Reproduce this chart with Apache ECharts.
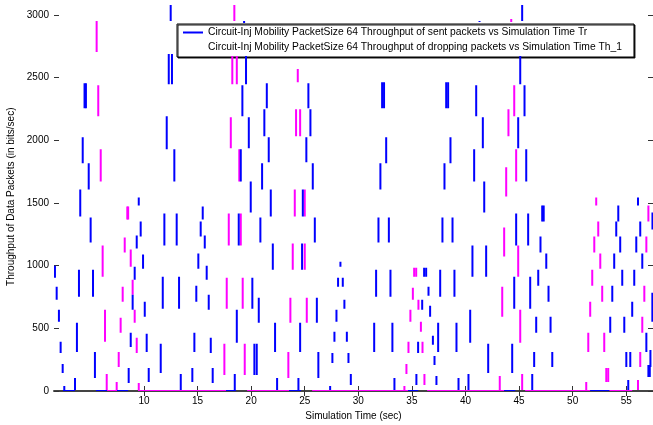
<!DOCTYPE html>
<html>
<head>
<meta charset="utf-8">
<script src="https://cdn.jsdelivr.net/npm/echarts@6/dist/echarts.min.js"></script>
<style>html,body{margin:0;padding:0;background:#fff;}#c{width:653px;height:425px;}</style>
</head>
<body>
<div id="c"></div>
<script>
// Series names
const name1 = 'Circuit-Inj Mobility PacketSize 64 Throughput of sent packets vs Simulation Time Tr';
const name2 = 'Circuit-Inj Mobility PacketSize 64 Throughput of dropping packets vs Simulation Time Th_1';
const xTitle = 'Simulation Time (sec)';
const yTitle = 'Throughput of Data Packets (in bits/sec)';
const xTicks = [10, 15, 20, 25, 30, 35, 40, 45, 50, 55];
const yTicks = [0, 500, 1000, 1500, 2000, 2500, 3000];

// vertical jumps: [time, low value, high value]
const blueSegs = [
[1.69,904,1000],[1.85,728,832],[2.06,552,648],[2.22,304,392],[2.41,144,216],[2.56,8,40],
[3.56,8,104],[3.74,312,544],[3.93,752,968],[4.05,1392,1608],[4.28,1816,2024],[4.45,2256,2456],[4.58,2256,2456],[4.84,1608,1816],[5.02,1184,1384],[5.24,752,968],[5.42,104,312],
[8.57,64,184],[8.76,352,464],[8.94,648,768],[9.13,888,992],[9.32,1136,1240],[9.51,1480,1544],[9.69,1232,1352],[9.91,976,1088],[10.07,592,712],[10.25,312,456],[10.44,72,184],
[11.56,144,376],[11.75,656,912],[11.90,1160,1416],[12.12,1928,2192],[12.31,2448,2688],[12.49,2952,3080],[12.61,2448,2688],[12.83,1672,1928],[13.05,1160,1416],[13.27,656,912],[13.43,8,136],
[14.51,72,184],[14.70,312,464],[14.88,712,840],[15.07,976,1096],[15.29,1232,1352],[15.48,1368,1472],[15.67,1136,1240],[15.85,888,1000],[16.04,648,768],[16.23,304,424],[16.41,64,184],
[18.47,8,136],[18.66,384,648],[18.84,1160,1416],[19.03,1672,1928],[19.18,2192,2440],[19.34,2936,2952],[19.52,2448,2672],[19.78,1936,2184],[19.96,1424,1672],[20.11,656,904],[20.30,128,376],[20.52,128,376],[20.71,544,744],[20.86,1184,1384],[21.02,1608,1816],[21.23,2032,2248],[21.46,2256,2456],[21.64,1824,2024],[21.83,1392,1608],[22.02,968,1176],[22.23,312,544],[22.42,8,104],
[24.41,8,104],[24.57,312,544],[24.75,968,1176],[24.82,1392,1608],[25.15,1824,2024],[25.34,2256,2456],[25.53,2032,2248],[25.75,1608,1816],[25.94,1184,1384],[26.13,544,744],[26.27,104,312],
[27.37,8,40],[27.58,224,304],[27.77,392,472],[27.96,552,648],[28.11,832,904],[28.33,992,1032],[28.55,832,904],[28.70,656,728],[28.93,392,472],[29.08,224,304],[29.30,48,136],
[31.48,312,544],[31.66,752,968],[31.88,1184,1384],[32.06,1608,1816],[32.22,2256,2464],[32.40,2256,2464],[32.60,1816,2024],[32.85,1184,1384],[33.00,752,968],[33.18,312,544],[33.37,8,104],
[35.42,48,136],[35.58,304,392],[35.96,648,728],[36.14,912,984],[36.33,912,984],[36.55,760,832],[36.70,592,680],[36.96,368,440],[37.11,208,280],[37.29,48,120],
[37.45,312,544],[37.64,752,968],[37.85,1184,1384],[38.04,1608,1816],[38.20,2256,2464],[38.38,2256,2464],[38.60,1816,2024],[38.79,1184,1384],[38.97,752,968],[39.16,312,544],[39.35,8,104],
[40.28,8,136],[40.44,384,648],[40.65,912,1160],[40.81,1672,1928],[41.00,2192,2440],[41.31,2944,2952],[41.62,1936,2184],[41.75,1424,1672],[41.93,912,1160],[42.12,144,376],
[44.36,144,376],[44.55,656,912],[44.73,1160,1416],[44.92,1936,2184],[45.11,2448,2672],[45.29,2952,3080],[45.51,2192,2440],[45.67,1672,1928],[45.85,1160,1416],[46.04,656,912],[46.23,8,136],
[46.41,192,312],[46.60,464,592],[46.79,840,968],[47.00,1104,1232],[47.16,1352,1480],[47.30,1352,1480],[47.54,976,1096],[47.75,712,840],[47.94,464,592],[48.10,192,312],
[53.51,464,592],[53.70,712,840],[53.88,976,1096],[54.07,1232,1352],[54.26,1352,1480],[54.44,1104,1232],[54.63,840,968],[54.82,464,592],[55.01,192,312],[55.19,8,88],[55.38,192,312],[55.56,592,712],[55.75,840,968],[55.94,1104,1232],[56.10,1480,1544],[56.31,1232,1352],[56.50,976,1096],[56.88,312,464],[57.07,112,208],[57.20,112,208],[57.26,192,328],[57.44,552,784],[57.45,1288,1424]
];
const magentaSegs = [
[5.58,2704,2952],[5.73,2192,2440],[5.96,1672,1928],[6.14,912,1160],[6.36,392,648],[6.52,8,136],
[7.45,8,72],[7.64,192,312],[7.82,464,584],[8.01,712,832],[8.20,1104,1224],[8.44,1368,1472],[8.52,1368,1472],[8.76,992,1128],[8.94,768,888],[9.13,544,648],[9.32,304,424],[9.51,8,64],
[17.50,128,376],[17.72,656,904],[17.91,1160,1416],[18.10,1936,2184],[18.24,2448,2672],[18.43,2952,3080],[18.66,2448,2672],[18.89,1672,1928],[19.03,1160,1416],[19.21,656,904],[19.40,128,376],
[23.47,104,312],[23.66,544,744],[23.88,968,1176],[24.07,1392,1608],[24.19,2032,2248],[24.35,2464,2568],[24.57,2032,2248],[25.00,1392,1608],[25.00,968,1176],[25.19,544,744],
[34.30,8,40],[34.49,136,216],[34.68,304,392],[34.86,552,648],[35.09,728,824],[35.21,912,984],[35.40,912,984],[35.61,648,728],[35.84,472,552],[35.99,304,392],[36.17,48,136],
[43.20,8,120],[43.43,592,832],[43.61,1072,1304],[43.80,1552,1784],[44.01,2032,2248],[44.27,2944,2968],[44.55,2192,2440],[44.73,1672,1928],[44.92,912,1160],[45.11,384,648],[45.29,8,136],
[51.27,8,72],[51.46,312,464],[51.64,592,712],[51.83,840,968],[52.02,1104,1232],[52.20,1480,1544],[52.39,1232,1352],[52.58,976,1096],[52.76,712,840],[52.95,312,464],[53.14,72,184],[53.32,72,184],
[56.10,8,88],[56.31,192,312],[56.50,464,592],[56.69,712,840],[56.88,1104,1232],[57.07,1352,1480]
];
// stretches where the throughput sits at zero: [start time, end time]
const blueBase = [[2.44,3.56],[5.52,6.55],[7.48,8.51],[17.66,18.59],[23.54,24.66],[34.65,35.58],[43.61,44.64],[51.64,53.42]];
const magentaBase = [[6.55,7.48],[9.44,17.66],[19.62,23.54],[25.69,34.65],[36.42,43.61],[45.57,51.64],[53.42,55.56]];

const BLUE = '#0000ff', MAG = '#ff00ff';
const FONT = 'Liberation Sans, Arial, sans-serif';

function vertItem(params, api) {
  const p1 = api.coord([api.value(0), api.value(1)]);
  const p2 = api.coord([api.value(0), api.value(2)]);
  return { type: 'line', shape: { x1: p1[0], y1: p1[1], x2: p2[0], y2: p2[1] },
           style: { stroke: api.visual('color'), lineWidth: 2 } };
}
function baseItem(params, api) {
  const p1 = api.coord([api.value(0), 0]);
  const p2 = api.coord([api.value(1), 0]);
  return { type: 'line', shape: { x1: p1[0], y1: p1[1], x2: p2[0], y2: p2[1] },
           style: { stroke: api.visual('color'), lineWidth: 2 } };
}

const chart = echarts.init(document.getElementById('c'), null, { renderer: 'canvas' });
const tickStyle = { color: '#333', width: 1 };
chart.setOption({
  animation: false,
  backgroundColor: '#fff',
  grid: { left: 54, right: 0, top: 2.4, bottom: 34, containLabel: false, outerBoundsMode: 'none' },
  legend: {
    orient: 'vertical', left: 177, top: 24,
    padding: [3, 12, 4, 6], itemGap: 4, itemWidth: 20, itemHeight: 2, icon: 'rect',
    backgroundColor: '#fff', borderColor: '#000', borderWidth: 1,
    shadowColor: 'rgba(0,0,0,0.9)', shadowOffsetX: 1, shadowOffsetY: 1, shadowBlur: 0,
    selectedMode: false,
    textStyle: { fontSize: 10.3, color: '#000', fontFamily: FONT, lineHeight: 11 },
    data: [{ name: name1 }, { name: name2, icon: 'none' }]
  },
  xAxis: [{
    type: 'value', min: 1.6, max: 57.5, position: 'bottom',
    name: xTitle, nameLocation: 'middle', nameGap: 17,
    nameTextStyle: { fontSize: 10, color: '#000', fontFamily: FONT },
    axisLine: { show: true, lineStyle: { color: '#444', width: 2 } },
    axisTick: { show: true, inside: true, length: 5, customValues: xTicks, lineStyle: tickStyle },
    axisLabel: { customValues: xTicks, fontSize: 10, color: '#000', fontFamily: FONT, margin: 5,
                 formatter: (v) => String(v) },
    splitLine: { show: false }
  }, {
    type: 'value', min: 1.6, max: 57.5, position: 'top',
    axisLine: { show: false },
    axisTick: { show: true, inside: true, length: 5, customValues: xTicks, lineStyle: tickStyle },
    axisLabel: { show: false }, splitLine: { show: false }
  }],
  yAxis: [{
    type: 'value', min: 0, max: 3100, position: 'left',
    name: yTitle, nameLocation: 'middle', nameGap: 38, nameRotate: 90, nameMoveOverlap: false,
    nameTextStyle: { fontSize: 10, color: '#000', fontFamily: FONT },
    axisLine: { show: false },
    axisTick: { show: true, inside: true, length: 5, customValues: yTicks, lineStyle: tickStyle },
    axisLabel: { customValues: yTicks, fontSize: 10, color: '#000', fontFamily: FONT, margin: 5,
                 formatter: (v) => String(v) },
    splitLine: { show: false }
  }, {
    type: 'value', min: 0, max: 3100, position: 'right',
    axisLine: { show: false },
    axisTick: { show: true, inside: true, length: 5, customValues: yTicks, lineStyle: tickStyle },
    axisLabel: { show: false }, splitLine: { show: false }
  }],
  series: [
    { name: name2, type: 'custom', renderItem: baseItem, data: magentaBase, clip: true,
      itemStyle: { color: MAG }, encode: { x: [0, 1] }, z: 3 },
    { name: name1, type: 'custom', renderItem: baseItem, data: blueBase, clip: true,
      itemStyle: { color: BLUE }, encode: { x: [0, 1] }, z: 3 },
    { name: name2, type: 'custom', renderItem: vertItem, data: magentaSegs, clip: true,
      itemStyle: { color: MAG }, encode: { x: 0, y: [1, 2] }, z: 4 },
    { name: name1, type: 'custom', renderItem: vertItem, data: blueSegs, clip: true,
      itemStyle: { color: BLUE }, encode: { x: 0, y: [1, 2] }, z: 5 }
  ]
});
</script>
</body>
</html>
